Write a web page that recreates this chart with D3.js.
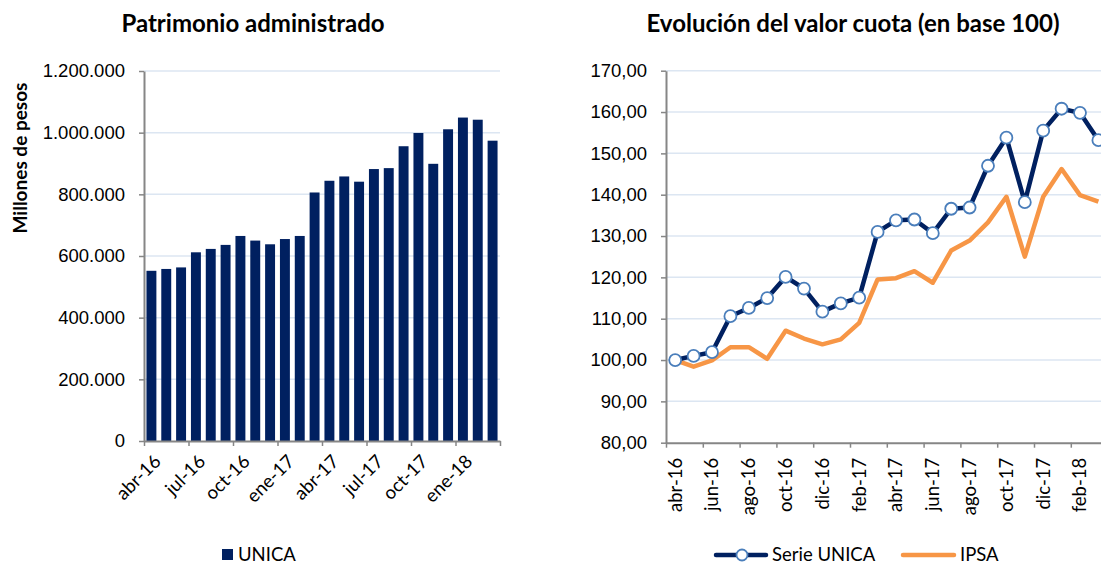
<!DOCTYPE html>
<html>
<head>
<meta charset="utf-8">
<script src="https://cdn.jsdelivr.net/npm/d3@7"></script>
<style>
  body { margin: 0; background: #fff; }
  svg { display: block; font-family: Lato, "Open Sans", sans-serif; }
</style>
</head>
<body>
<svg id="chart" width="1101" height="564"></svg>
<script>
// months shown on both charts, abr-16 .. mar-18
const months = ["abr-16","may-16","jun-16","jul-16","ago-16","sep-16","oct-16","nov-16","dic-16",
  "ene-17","feb-17","mar-17","abr-17","may-17","jun-17","jul-17","ago-17","sep-17","oct-17",
  "nov-17","dic-17","ene-18","feb-18","mar-18"];

// patrimonio administrado (millones de pesos)
const patrimonio = [552000, 558000, 563000, 612000, 623000, 636000, 665000, 650000, 638000,
  655000, 665000, 806000, 844000, 858000, 841000, 882000, 885000, 956000, 999000,
  899000, 1011000, 1049000, 1042000, 974000];

// valor cuota base 100
const serieUnica = [100.0, 101.0, 101.9, 110.6, 112.6, 115.0, 120.1, 117.3, 111.7, 113.7, 115.1,
  131.0, 133.8, 134.0, 130.7, 136.6, 136.9, 147.0, 153.8, 138.2, 155.5, 160.8, 159.8, 153.2];
const ipsa = [100.0, 98.4, 99.9, 103.1, 103.1, 100.3, 107.1, 105.2, 103.8, 105.0, 109.0,
  119.5, 119.8, 121.5, 118.7, 126.5, 128.9, 133.3, 139.5, 125.0, 139.5, 146.2, 139.9, 138.3];

const leftTicks = [0, 200000, 400000, 600000, 800000, 1000000, 1200000];
const rightTicks = [80, 90, 100, 110, 120, 130, 140, 150, 160, 170];

const locale = d3.formatLocale({decimal: ",", thousands: ".", grouping: [3], currency: ["$", ""]});
const fmtInt = locale.format(",.0f");
const fmtDec = locale.format(",.2f");

const navy = "#002060";
const orange = "#f79646";
const grid = "#dce6f2";
const axisCol = "#868686";
const fs = "18.5px";

const svg = d3.select("#chart");

const styleAxis = (g) => {
  g.selectAll(".domain").attr("stroke", axisCol).attr("stroke-width", 2);
  g.selectAll(".tick line").attr("stroke", axisCol).attr("stroke-width", 1.5);
  g.selectAll(".tick text").attr("fill", "#000").style("font-size", fs);
};

// ---------- left chart: bars ----------
const L = {left: 144, right: 500, top: 71, bottom: 441};

const xL = d3.scaleBand().domain(months).range([L.left, L.right]).paddingInner(0.33).paddingOuter(0.165);
const yL = d3.scaleLinear().domain([0, 1200000]).range([L.bottom, L.top]);
const idxL = d3.scaleLinear().domain([0, months.length]).range([L.left, L.right]);

svg.append("text")
  .attr("x", 253).attr("y", 32)
  .attr("text-anchor", "middle")
  .style("font-size", "24px").style("font-weight", "bold")
  .text("Patrimonio administrado");

svg.append("g").selectAll("line")
  .data(leftTicks.filter(d => d > 0))
  .join("line")
  .attr("x1", L.left).attr("x2", L.right)
  .attr("y1", d => yL(d)).attr("y2", d => yL(d))
  .attr("stroke", grid).attr("stroke-width", 1.5);

svg.append("g").selectAll("rect")
  .data(patrimonio)
  .join("rect")
  .attr("x", (d, i) => xL(months[i]))
  .attr("width", xL.bandwidth())
  .attr("y", d => yL(d))
  .attr("height", d => yL(0) - yL(d))
  .attr("fill", navy);

svg.append("g")
  .attr("transform", `translate(${L.left},0)`)
  .call(d3.axisLeft(yL).tickValues(leftTicks).tickFormat(fmtInt).tickSize(5).tickSizeOuter(0).tickPadding(14))
  .call(styleAxis);

svg.append("g")
  .attr("transform", `translate(0,${L.bottom})`)
  .call(d3.axisBottom(idxL).tickValues(d3.range(0, months.length + 1, 3)).tickFormat("").tickSize(5).tickSizeOuter(0))
  .call(styleAxis);

svg.append("g").selectAll("text")
  .data(months.filter((d, i) => i % 3 === 0))
  .join("text")
  .attr("transform", d => `translate(${xL(d) + xL.bandwidth() / 2 + 6},${L.bottom + 17}) rotate(-45)`)
  .attr("text-anchor", "end")
  .attr("dy", "0.35em")
  .style("font-size", fs)
  .text(d => d);

svg.append("text")
  .attr("transform", "translate(27,158) rotate(-90)")
  .attr("text-anchor", "middle")
  .style("font-size", "19px").style("font-weight", "bold")
  .text("Millones de pesos");

// legend left
svg.append("rect").attr("x", 222).attr("y", 549).attr("width", 11).attr("height", 11).attr("fill", navy);
svg.append("text").attr("x", 238).attr("y", 561).style("font-size", fs).text("UNICA");

// ---------- right chart: lines ----------
const R = {left: 666, top: 70.7, bottom: 442.7};
const step = 18.4;
R.right = R.left + step * months.length;

const xR = d3.scaleBand().domain(months).range([R.left, R.right]);
const yR = d3.scaleLinear().domain([80, 170]).range([R.bottom, R.top]);
const idxR = d3.scaleLinear().domain([0, months.length]).range([R.left, R.right]);
const cx = d => xR(d) + xR.bandwidth() / 2;

svg.append("text")
  .attr("x", 853).attr("y", 32)
  .attr("text-anchor", "middle")
  .style("font-size", "24px").style("font-weight", "bold")
  .text("Evolución del valor cuota (en base 100)");

svg.append("g").selectAll("line")
  .data(rightTicks.filter(d => d > 80))
  .join("line")
  .attr("x1", R.left).attr("x2", R.right)
  .attr("y1", d => yR(d)).attr("y2", d => yR(d))
  .attr("stroke", grid).attr("stroke-width", 1.5);

svg.append("g")
  .attr("transform", `translate(${R.left},0)`)
  .call(d3.axisLeft(yR).tickValues(rightTicks).tickFormat(fmtDec).tickSize(5).tickSizeOuter(0).tickPadding(14))
  .call(styleAxis);

svg.append("g")
  .attr("transform", `translate(0,${R.bottom})`)
  .call(d3.axisBottom(idxR).tickValues(d3.range(0, months.length + 1, 2)).tickFormat("").tickSize(5).tickSizeOuter(0))
  .call(styleAxis);

svg.append("g").selectAll("text")
  .data(months.filter((d, i) => i % 2 === 0))
  .join("text")
  .attr("transform", d => `translate(${cx(d)},${R.bottom + 15}) rotate(-90)`)
  .attr("text-anchor", "end")
  .attr("dy", "0.35em")
  .style("font-size", fs)
  .text(d => d);

const line = d3.line().x((d, i) => cx(months[i])).y(d => yR(d));

svg.append("path")
  .datum(ipsa)
  .attr("d", line)
  .attr("fill", "none").attr("stroke", orange).attr("stroke-width", 4.5)
  .attr("stroke-linejoin", "round");

svg.append("path")
  .datum(serieUnica)
  .attr("d", line)
  .attr("fill", "none").attr("stroke", navy).attr("stroke-width", 4.5)
  .attr("stroke-linejoin", "round");

svg.append("g").selectAll("circle")
  .data(serieUnica)
  .join("circle")
  .attr("cx", (d, i) => cx(months[i]))
  .attr("cy", d => yR(d))
  .attr("r", 6)
  .attr("fill", "#fff").attr("stroke", "#4a7ebb").attr("stroke-width", 1.8);

// legend right
svg.append("line").attr("x1", 716).attr("x2", 766).attr("y1", 555).attr("y2", 555)
  .attr("stroke", navy).attr("stroke-width", 4.5).attr("stroke-linecap", "round");
svg.append("circle").attr("cx", 742).attr("cy", 555).attr("r", 5.5)
  .attr("fill", "#fff").attr("stroke", "#4a7ebb").attr("stroke-width", 1.8);
svg.append("text").attr("x", 772).attr("y", 561).style("font-size", fs).text("Serie UNICA");
svg.append("line").attr("x1", 903).attr("x2", 954).attr("y1", 555).attr("y2", 555)
  .attr("stroke", orange).attr("stroke-width", 4.5).attr("stroke-linecap", "round");
svg.append("text").attr("x", 960).attr("y", 561).style("font-size", fs).text("IPSA");
</script>
</body>
</html>
